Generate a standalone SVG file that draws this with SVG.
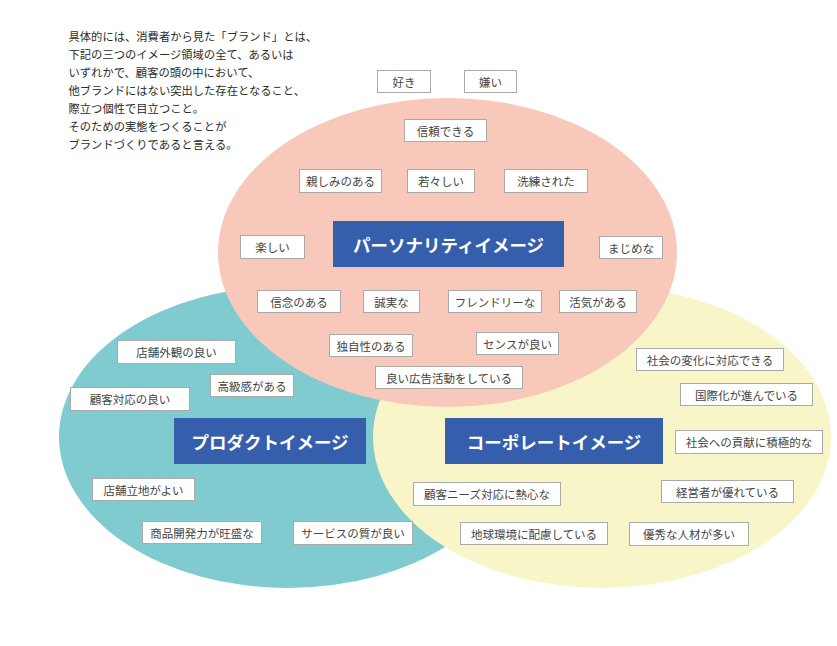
<svg xmlns="http://www.w3.org/2000/svg" width="837" height="646" viewBox="0 0 837 646">
<style>
  .bg { fill: #ffffff; }
  .tag rect { fill: #ffffff; stroke: #a9a9a9; stroke-width: 1; }
  .tag text { font-family: "Noto Sans CJK JP", "Noto Sans", sans-serif; font-size: 11.5px; fill: #444444; text-anchor: middle; dominant-baseline: central; }
  .main rect { fill: #355fad; }
  .main text { font-family: "Noto Sans CJK JP", "Noto Sans", sans-serif; font-size: 17.5px; font-weight: bold; fill: #ffffff; text-anchor: middle; dominant-baseline: central; }
  .intro { font-family: "Noto Sans CJK JP", "Noto Sans", sans-serif; font-size: 11.3px; fill: #2a2a2a; }
</style>
<rect class="bg" x="0" y="0" width="837" height="646"/>
<g id="circles">
  <ellipse id="product-area" cx="288" cy="437" rx="229" ry="151" fill="#80cbd0"/>
  <ellipse id="corporate-area" cx="602" cy="437" rx="229" ry="151" fill="#f8f6c8"/>
  <ellipse id="personality-area" cx="447.5" cy="252.5" rx="229.5" ry="154.5" fill="#f8c9bb"/>
</g>
<g id="intro-text" class="intro">
  <text x="68.5" y="41">具体的には、消費者から見た「ブランド」とは、</text>
  <text x="68.5" y="59">下記の三つのイメージ領域の全て、あるいは</text>
  <text x="68.5" y="77">いずれかで、顧客の頭の中において、</text>
  <text x="68.5" y="95">他ブランドにはない突出した存在となること、</text>
  <text x="68.5" y="113">際立つ個性で目立つこと。</text>
  <text x="68.5" y="131">そのための実態をつくることが</text>
  <text x="68.5" y="149">ブランドづくりであると言える。</text>
</g>
<g id="connectors"></g>
<g id="personality" class="main"><rect x="333" y="221" width="231" height="46"/><text x="448.5" y="244">パーソナリティイメージ</text></g>
<g id="product" class="main"><rect x="174" y="418" width="192" height="46"/><text x="270" y="441">プロダクトイメージ</text></g>
<g id="corporate" class="main"><rect x="445" y="418" width="218" height="46"/><text x="554" y="441">コーポレートイメージ</text></g>

<g id="t-suki" class="tag"><rect x="377.5" y="70.5" width="53" height="22"/><text x="404" y="81.5">好き</text></g>
<g id="t-kirai" class="tag"><rect x="464.5" y="70.5" width="52" height="22"/><text x="490.5" y="81.5">嫌い</text></g>
<g id="t-shinrai" class="tag"><rect x="404.5" y="119.5" width="82" height="22"/><text x="445.5" y="130.5">信頼できる</text></g>
<g id="t-shitashimi" class="tag"><rect x="299.5" y="169.5" width="82" height="23"/><text x="340.5" y="181">親しみのある</text></g>
<g id="t-wakawaka" class="tag"><rect x="407.5" y="169.5" width="67" height="23"/><text x="441" y="181">若々しい</text></g>
<g id="t-senren" class="tag"><rect x="504.5" y="169.5" width="83" height="23"/><text x="546" y="181">洗練された</text></g>
<g id="t-tanoshii" class="tag"><rect x="240.5" y="235.5" width="64" height="23"/><text x="272.5" y="247">楽しい</text></g>
<g id="t-majime" class="tag"><rect x="599.5" y="236.5" width="63" height="22"/><text x="631" y="247.5">まじめな</text></g>
<g id="t-shinnen" class="tag"><rect x="257.5" y="290.5" width="83" height="22"/><text x="299" y="301.5">信念のある</text></g>
<g id="t-seijitsu" class="tag"><rect x="363.5" y="290.5" width="56" height="22"/><text x="391.5" y="301.5">誠実な</text></g>
<g id="t-friendly" class="tag"><rect x="448.5" y="290.5" width="93" height="22"/><text x="495" y="301.5">フレンドリーな</text></g>
<g id="t-kakki" class="tag"><rect x="559.5" y="290.5" width="77" height="22"/><text x="598" y="301.5">活気がある</text></g>
<g id="t-dokuji" class="tag"><rect x="329.5" y="334.5" width="83" height="22"/><text x="371" y="345.5">独自性のある</text></g>
<g id="t-sense" class="tag"><rect x="476.5" y="332.5" width="82" height="22"/><text x="517.5" y="343.5">センスが良い</text></g>
<g id="t-koukoku" class="tag"><rect x="375.5" y="366.5" width="147" height="22"/><text x="449" y="377.5">良い広告活動をしている</text></g>

<g id="t-gaikan" class="tag"><rect x="117.5" y="340.5" width="118" height="23"/><text x="176.5" y="352">店舗外観の良い</text></g>
<g id="t-koukyuu" class="tag"><rect x="210.5" y="374.5" width="83" height="22"/><text x="252" y="385.5">高級感がある</text></g>
<g id="t-kokyaku" class="tag"><rect x="70.5" y="387.5" width="119" height="23"/><text x="130" y="399">顧客対応の良い</text></g>
<g id="t-ricchi" class="tag"><rect x="92.5" y="478.5" width="102" height="22"/><text x="143.5" y="489.5">店舗立地がよい</text></g>
<g id="t-kaihatsu" class="tag"><rect x="142.5" y="521.5" width="119" height="22"/><text x="202" y="532.5">商品開発力が旺盛な</text></g>
<g id="t-service" class="tag"><rect x="293.5" y="521.5" width="119" height="23"/><text x="353" y="533">サービスの質が良い</text></g>

<g id="t-henka" class="tag"><rect x="636.5" y="348.5" width="147" height="22"/><text x="710" y="359.5">社会の変化に対応できる</text></g>
<g id="t-kokusai" class="tag"><rect x="680.5" y="383.5" width="132" height="22"/><text x="746.5" y="394.5">国際化が進んでいる</text></g>
<g id="t-kouken" class="tag"><rect x="675.5" y="430.5" width="147" height="23"/><text x="749" y="442">社会への貢献に積極的な</text></g>
<g id="t-needs" class="tag"><rect x="413.5" y="482.5" width="147" height="23"/><text x="487" y="494">顧客ニーズ対応に熱心な</text></g>
<g id="t-keiei" class="tag"><rect x="661.5" y="480.5" width="132" height="22"/><text x="727.5" y="491.5">経営者が優れている</text></g>
<g id="t-kankyou" class="tag"><rect x="460.5" y="522.5" width="147" height="22"/><text x="534" y="533.5">地球環境に配慮している</text></g>
<g id="t-jinzai" class="tag"><rect x="629.5" y="522.5" width="119" height="23"/><text x="689" y="534">優秀な人材が多い</text></g>
</svg>
